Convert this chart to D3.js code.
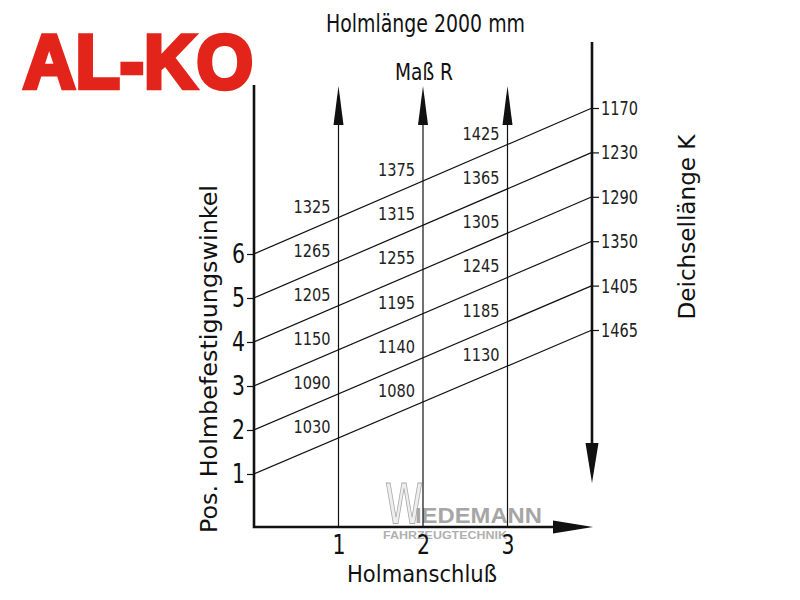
<!DOCTYPE html>
<html lang="de">
<head>
<meta charset="UTF-8">
<title>Holmlänge 2000 mm</title>
<script src="https://d3js.org/d3.v7.min.js"></script>
<style>
  body { margin: 0; background: #fff; }
  svg { display: block; }
  text { font-family: "Liberation Sans Narrow", "DejaVu Sans Condensed", "Liberation Sans", sans-serif; fill: #111; }
  .num { font-weight: 300; fill: #222; }
</style>
</head>
<body>
<svg width="800" height="600"></svg>
<script>
// Pos. Holmbefestigungswinkel (left axis)
const positions = [1, 2, 3, 4, 5, 6];
// Deichsellänge K reached by each position line on the right axis
const deichselK = [1465, 1405, 1350, 1290, 1230, 1170];
// Holmanschluß columns
const columns = [1, 2, 3];
// Maß R at every crossing, one row per position, one value per column
const massR = [
  [1030, 1080, 1130],
  [1090, 1140, 1185],
  [1150, 1195, 1245],
  [1205, 1255, 1305],
  [1265, 1315, 1365],
  [1325, 1375, 1425]
];

const svg = d3.select("svg");

// scales
const x = d3.scaleLinear().domain([0, 3]).range([254, 507.5]);
const y = d3.scaleLinear().domain([1, 6]).range([474, 254]);
const yK = d3.scalePoint().domain(deichselK.slice().sort((a, b) => a - b)).range([108, 330]);
const xRight = x(4);
const yBase = 527, yTop = 85;

// logo (heavy red lettering)
svg.append("text")
  .attr("x", 23).attr("y", 88)
  .attr("textLength", 230).attr("lengthAdjust", "spacingAndGlyphs")
  .style("font-family", "'Liberation Sans', Arial, sans-serif")
  .style("font-weight", "bold").style("font-size", "76px")
  .style("fill", "#e3241b").style("stroke", "#e3241b")
  .style("stroke-width", 4.5).style("stroke-linejoin", "miter")
  .text("AL-KO");

// watermark
const wm = svg.append("g").attr("class", "watermark");
wm.append("text").attr("x", 385).attr("y", 523)
  .attr("textLength", 38).attr("lengthAdjust", "spacingAndGlyphs")
  .style("font-size", "55px").style("fill", "#eee").style("stroke", "#aaa").style("stroke-width", 1)
  .text("W");
wm.append("text").attr("x", 415).attr("y", 523)
  .attr("textLength", 127).attr("lengthAdjust", "spacingAndGlyphs")
  .style("font-family", "'Liberation Sans', sans-serif")
  .style("font-size", "22px").style("font-weight", "bold").style("fill", "#a6a6a6")
  .text("IEDEMANN");
wm.append("text").attr("x", 383).attr("y", 539)
  .attr("textLength", 124).attr("lengthAdjust", "spacingAndGlyphs")
  .style("font-family", "'Liberation Sans', sans-serif")
  .style("font-size", "11px").style("font-weight", "bold").style("fill", "#b0b0b0")
  .text("FAHRZEUGTECHNIK");

// titles
svg.append("text").attr("x", 326).attr("y", 32)
  .attr("textLength", 199).attr("lengthAdjust", "spacingAndGlyphs")
  .style("font-size", "25px").text("Holmlänge 2000 mm");
svg.append("text").attr("x", 395).attr("y", 80)
  .attr("textLength", 58).attr("lengthAdjust", "spacingAndGlyphs")
  .style("font-size", "23px").text("Maß R");
svg.append("text").attr("transform", "translate(217,359) rotate(-90)")
  .attr("text-anchor", "middle")
  .attr("textLength", 348).attr("lengthAdjust", "spacingAndGlyphs")
  .style("font-size", "23px").text("Pos. Holmbefestigungswinkel");
svg.append("text").attr("transform", "translate(695,227) rotate(-90)")
  .attr("text-anchor", "middle")
  .attr("textLength", 185).attr("lengthAdjust", "spacingAndGlyphs")
  .style("font-size", "23px").text("Deichsellänge K");
svg.append("text").attr("x", 347).attr("y", 582)
  .attr("textLength", 150).attr("lengthAdjust", "spacingAndGlyphs")
  .style("font-size", "23px").text("Holmanschluß");

// column lines with arrows
const cols = svg.append("g").attr("class", "columns");
columns.forEach(c => {
  cols.append("line")
    .attr("x1", x(c)).attr("x2", x(c)).attr("y1", yBase).attr("y2", 120)
    .attr("stroke", "#111").attr("stroke-width", 1.2);
  cols.append("path")
    .attr("d", `M${x(c)},86 L${x(c) + 5},125 L${x(c) - 5},125 Z`)
    .attr("fill", "#111");
});

// position lines
const lineGen = d3.line();
const lines = svg.append("g").attr("class", "lines");
positions.forEach((p, i) => {
  const y0 = y(p), y1 = yK(deichselK[i]);
  lines.append("path")
    .attr("d", lineGen([[x(0), y0], [xRight, y1]]))
    .attr("fill", "none").attr("stroke", "#111").attr("stroke-width", 1.2);
  columns.forEach((c, j) => {
    const yc = y0 + (y1 - y0) * c / 4;
    lines.append("text").attr("class", "num")
      .attr("x", x(c) - 8).attr("y", yc - 5)
      .attr("text-anchor", "end")
      .attr("textLength", 37).attr("lengthAdjust", "spacingAndGlyphs")
      .style("font-size", "18px")
      .text(massR[i][j]);
  });
});

// left axis
const leftAxis = svg.append("g").attr("transform", `translate(${x(0)},0)`)
  .call(d3.axisLeft(y).tickValues(positions).tickSize(7).tickPadding(2).tickFormat(d3.format("d")));
leftAxis.select(".domain").remove();
leftAxis.selectAll(".tick line").attr("stroke", "#111").attr("stroke-width", 1.2);
leftAxis.selectAll(".tick text")
  .attr("textLength", 13).attr("lengthAdjust", "spacingAndGlyphs")
  .style("font-size", "26px").style("font-family", null);

// bottom axis labels
const bottomAxis = svg.append("g").attr("transform", `translate(0,${yBase})`)
  .call(d3.axisBottom(x).tickValues(columns).tickSize(0).tickPadding(9).tickFormat(d3.format("d")));
bottomAxis.select(".domain").remove();
bottomAxis.selectAll(".tick text")
  .attr("textLength", 13).attr("lengthAdjust", "spacingAndGlyphs")
  .style("font-size", "26px").style("font-family", null);

// right axis ticks
const rightAxis = svg.append("g").attr("transform", `translate(${xRight},0)`)
  .call(d3.axisRight(yK).tickSize(7).tickPadding(2));
rightAxis.select(".domain").remove();
rightAxis.selectAll(".tick line").attr("stroke", "#111").attr("stroke-width", 1.2);
rightAxis.selectAll(".tick text").attr("class", "num")
  .attr("textLength", 37).attr("lengthAdjust", "spacingAndGlyphs")
  .style("font-size", "20px").style("font-family", null);

// axis lines
const ax = svg.append("g").attr("stroke", "#111").attr("stroke-width", 2.6).attr("fill", "none");
ax.append("path").attr("d", `M${x(0)},${yTop} L${x(0)},${yBase} L555,${yBase}`);
ax.append("path").attr("d", `M${xRight},42 L${xRight},445`);
svg.append("path").attr("fill", "#111")
  .attr("d", `M593,${yBase} L553,${yBase - 6.5} L553,${yBase + 6.5} Z`);
svg.append("path").attr("fill", "#111")
  .attr("d", `M${xRight},483 L${xRight - 6.5},443 L${xRight + 6.5},443 Z`);
</script>
</body>
</html>
